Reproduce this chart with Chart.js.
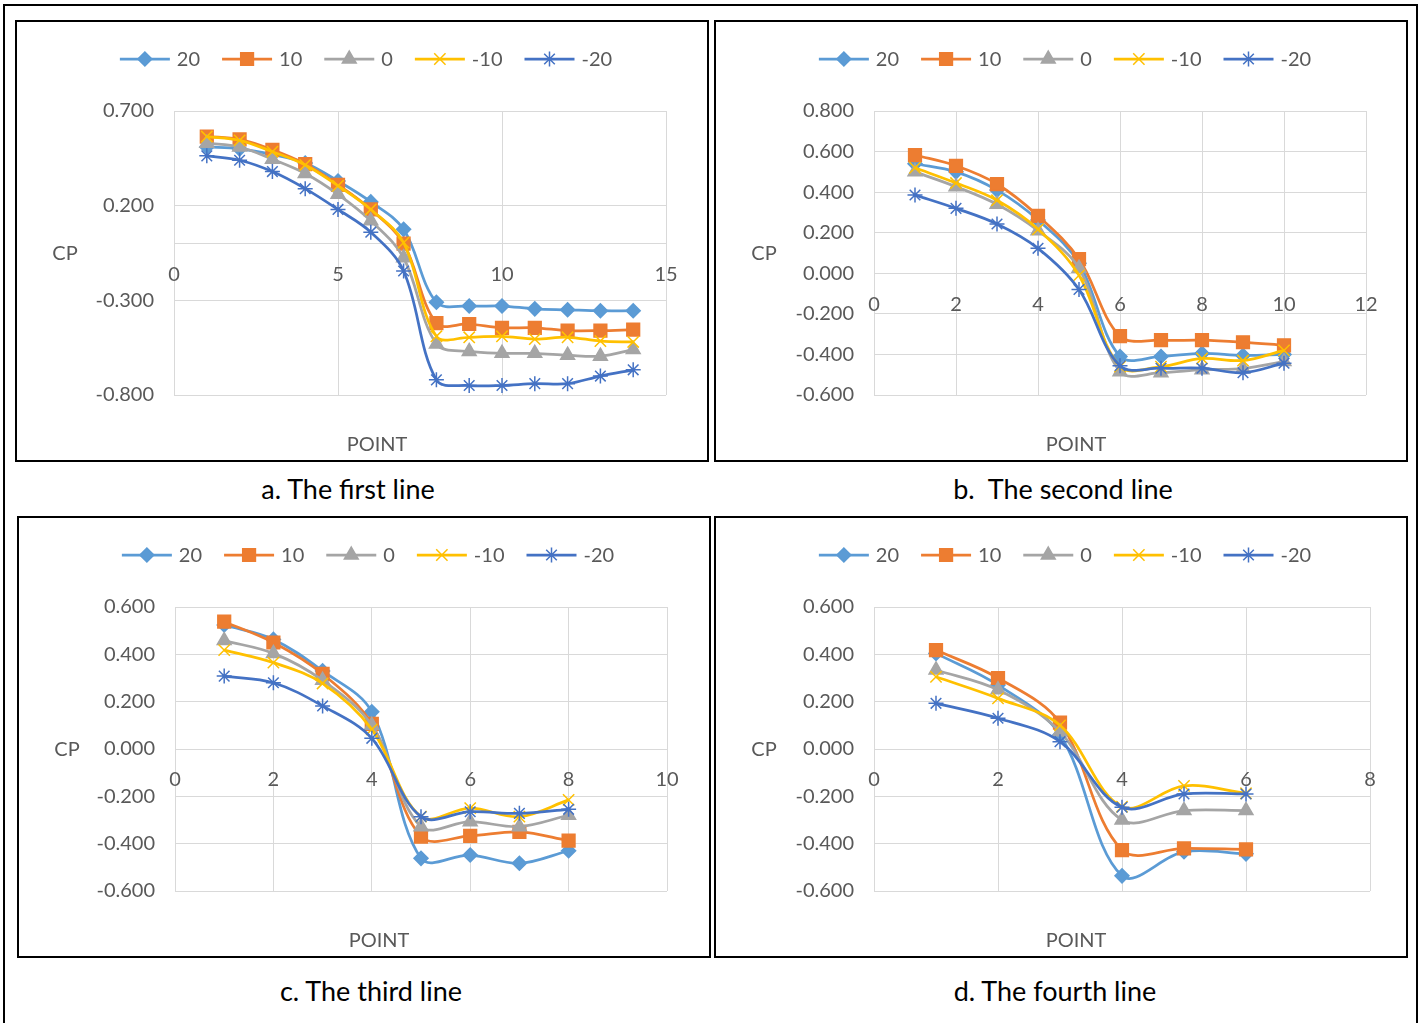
<!DOCTYPE html>
<html lang="en">
<head>
<meta charset="UTF-8">
<title>CP along the four lines</title>
<script src="https://cdn.jsdelivr.net/npm/chart.js"></script>
<style>
    body { margin: 0; background: #fff; font-family: Lato, 'Open Sans', sans-serif; }
    #page { position: relative; width: 1420px; height: 1023px; overflow: hidden; }
    .frame { position: absolute; left: 3px; top: 4px; width: 1411px; height: 1060px; border: 2px solid #000; }
    .box { position: absolute; width: 690px; height: 438px; border: 2px solid #000; }
    .box canvas { display: block; }
    .caption { position: absolute; width: 500px; text-align: center; font-size: 27px; color: #000; line-height: 30px; }
</style>
</head>
<body>
<div id="page">
    <div class="frame"></div>

    <div class="box" style="left:15px; top:20px;"><canvas id="chartA" width="690" height="438"></canvas></div>
    <div class="box" style="left:714px; top:20px;"><canvas id="chartB" width="690" height="438"></canvas></div>
    <div class="box" style="left:17px; top:516px;"><canvas id="chartC" width="690" height="438"></canvas></div>
    <div class="box" style="left:714px; top:516px;"><canvas id="chartD" width="690" height="438"></canvas></div>

    <div class="caption" style="left:98px; top:474px;">a. The first line</div>
    <div class="caption" style="left:813px; top:474px;">b.&nbsp; The second line</div>
    <div class="caption" style="left:121px; top:976px;">c. The third line</div>
    <div class="caption" style="left:805px; top:976px;">d. The fourth line</div>
</div>

<script>
// series names (angle) shared by all four charts
var seriesNames = ['20', '10', '0', '-10', '-20'];

// first line
var pointsA = [1, 2, 3, 4, 5, 6, 7, 8, 9, 10, 11, 12, 13, 14];
var a20  = [0.51, 0.50, 0.47, 0.425, 0.33, 0.22, 0.075, -0.31, -0.33, -0.33, -0.345, -0.35, -0.355, -0.355];
var a10  = [0.565, 0.55, 0.495, 0.42, 0.31, 0.18, 0.0, -0.42, -0.425, -0.445, -0.445, -0.46, -0.46, -0.455];
var a0   = [0.53, 0.51, 0.445, 0.37, 0.26, 0.12, -0.075, -0.53, -0.57, -0.58, -0.58, -0.59, -0.595, -0.56];
var aM10 = [0.565, 0.545, 0.485, 0.415, 0.305, 0.18, 0.005, -0.49, -0.495, -0.49, -0.505, -0.495, -0.515, -0.52];
var aM20 = [0.463, 0.44, 0.38, 0.29, 0.18, 0.06, -0.145, -0.72, -0.75, -0.75, -0.74, -0.74, -0.70, -0.667];
var yTicksA = [-0.8, -0.3, 0.2, 0.7];

// second line
var pointsB = [1, 2, 3, 4, 5, 6, 7, 8, 9, 10];
var b20  = [0.54, 0.50, 0.41, 0.263, 0.05, -0.41, -0.41, -0.395, -0.405, -0.40];
var b10  = [0.583, 0.53, 0.44, 0.283, 0.07, -0.31, -0.33, -0.33, -0.34, -0.355];
var b0   = [0.50, 0.427, 0.34, 0.21, 0.025, -0.485, -0.49, -0.475, -0.47, -0.435];
var bM10 = [0.52, 0.445, 0.36, 0.217, -0.01, -0.46, -0.46, -0.42, -0.43, -0.38];
var bM20 = [0.386, 0.32, 0.243, 0.123, -0.08, -0.456, -0.468, -0.468, -0.49, -0.443];
var yTicksB = [-0.6, -0.4, -0.2, 0, 0.2, 0.4, 0.6, 0.8];

// third line
var pointsC = [1, 2, 3, 4, 5, 6, 7, 8];
var c20  = [0.524, 0.463, 0.33, 0.157, -0.462, -0.448, -0.483, -0.43];
var c10  = [0.538, 0.45, 0.317, 0.106, -0.37, -0.367, -0.35, -0.387];
var c0   = [0.458, 0.404, 0.29, 0.10, -0.328, -0.307, -0.328, -0.28];
var cM10 = [0.418, 0.365, 0.277, 0.083, -0.286, -0.25, -0.286, -0.215];
var cM20 = [0.308, 0.28, 0.182, 0.045, -0.286, -0.265, -0.272, -0.255];
var yTicksC = [-0.6, -0.4, -0.2, 0, 0.2, 0.4, 0.6];

// fourth line
var pointsD = [1, 2, 3, 4, 5, 6];
var d20  = [0.404, 0.27, 0.06, -0.536, -0.434, -0.443];
var d10  = [0.418, 0.30, 0.111, -0.427, -0.42, -0.424];
var d0   = [0.334, 0.25, 0.073, -0.30, -0.26, -0.26];
var dM10 = [0.305, 0.214, 0.10, -0.244, -0.156, -0.187];
var dM20 = [0.193, 0.13, 0.031, -0.246, -0.19, -0.19];
var yTicksD = [-0.6, -0.4, -0.2, 0, 0.2, 0.4, 0.6];

var colors = ['#5B9BD5', '#ED7D31', '#A5A5A5', '#FFC000', '#4472C4'];
var markers = ['rectRot', 'rect', 'triangle', 'crossRot', 'star'];
var markerSizes = [7, 9, 8, 8, 7.5];
var FONT = 'Lato, "Open Sans", sans-serif';
var TEXT_GREY = '#595959';
var GRID_GREY = '#D9D9D9';

// legend drawn as line + marker + label, centred above the plot
var lineLegend = {
    id: 'lineLegend',
    afterDraw: function(chart) {
        var ctx = chart.ctx;
        var y = 37;
        ctx.save();
        ctx.font = '20px ' + FONT;
        var items = chart.data.datasets.map(function(ds) {
            return { ds: ds, w: ctx.measureText(ds.label).width };
        });
        var total = 0;
        items.forEach(function(it) { total += 50 + 7 + it.w; });
        total += 22 * (items.length - 1);
        var x = (chart.width - total) / 2 + 4;
        items.forEach(function(it) {
            var ds = it.ds;
            ctx.strokeStyle = ds.borderColor;
            ctx.lineWidth = 2.75;
            ctx.beginPath();
            ctx.moveTo(x, y);
            ctx.lineTo(x + 50, y);
            ctx.stroke();
            ctx.fillStyle = ds.borderColor;
            ctx.lineWidth = 1.5;
            Chart.helpers.drawPoint(ctx, { pointStyle: ds.pointStyle, radius: ds.pointRadius, borderWidth: 1.5, rotation: 0 }, x + 25, y);
            ctx.fillStyle = TEXT_GREY;
            ctx.textBaseline = 'middle';
            ctx.textAlign = 'left';
            ctx.fillText(ds.label, x + 57, y + 1);
            x += 50 + 7 + it.w + 22;
        });
        ctx.restore();
    }
};

// horizontal "CP" on the left and "POINT" under the plot
var axisTitles = {
    id: 'axisTitles',
    afterDraw: function(chart) {
        var ctx = chart.ctx;
        var area = chart.chartArea;
        ctx.save();
        ctx.font = '20px ' + FONT;
        ctx.fillStyle = TEXT_GREY;
        ctx.textAlign = 'center';
        ctx.textBaseline = 'middle';
        ctx.fillText('CP', 48, (area.top + area.bottom) / 2 + 1);
        ctx.fillText('POINT', 360, 423);
        ctx.restore();
    }
};

function buildDatasets(points, seriesList) {
    return seriesList.map(function(values, i) {
        return {
            label: seriesNames[i],
            data: values.map(function(v, j) { return { x: points[j], y: v }; }),
            borderColor: colors[i],
            backgroundColor: colors[i],
            pointBackgroundColor: colors[i],
            pointBorderColor: colors[i],
            pointStyle: markers[i],
            pointRadius: markerSizes[i],
            pointBorderWidth: 1.5,
            borderWidth: 2.75,
            tension: 0.35,
            order: seriesList.length - 1 - i
        };
    });
}

function makeChart(id, points, seriesList, xMax, xStep, yTicks, yAxisWidth, padRight) {
    var ctx = document.getElementById(id).getContext('2d');
    return new Chart(ctx, {
        type: 'line',
        data: { datasets: buildDatasets(points, seriesList) },
        plugins: [lineLegend, axisTitles],
        options: {
            responsive: false,
            animation: false,
            devicePixelRatio: 1,
            layout: { padding: { left: 0, top: 89, right: padRight, bottom: 65 } },
            plugins: { legend: { display: false }, tooltip: { enabled: false } },
            scales: {
                x: {
                    type: 'linear',
                    position: { y: 0 },
                    min: 0,
                    max: xMax,
                    afterFit: function(s) { s.height = 0; },
                    ticks: { stepSize: xStep, padding: 19, color: TEXT_GREY, font: { family: FONT, size: 20 } },
                    grid: { color: GRID_GREY, lineWidth: 1, drawTicks: false },
                    border: { color: GRID_GREY, width: 1 }
                },
                y: {
                    type: 'linear',
                    min: yTicks[0],
                    max: yTicks[yTicks.length - 1],
                    afterFit: function(s) { s.width = yAxisWidth; },
                    afterBuildTicks: function(s) {
                        s.ticks = yTicks.map(function(v) { return { value: v }; });
                    },
                    ticks: {
                        padding: 20,
                        color: TEXT_GREY,
                        font: { family: FONT, size: 20 },
                        callback: function(v) { return Number(v).toFixed(3); }
                    },
                    grid: { color: GRID_GREY, lineWidth: 1, drawTicks: false },
                    border: { display: false }
                }
            }
        }
    });
}

window.onload = function() {
    makeChart('chartA', pointsA, [a20, a10, a0, aM10, aM20], 15, 5, yTicksA, 157, 41);
    makeChart('chartB', pointsB, [b20, b10, b0, bM10, bM20], 12, 2, yTicksB, 158, 40);
    makeChart('chartC', pointsC, [c20, c10, c0, cM10, cM20], 10, 2, yTicksC, 156, 42);
    makeChart('chartD', pointsD, [d20, d10, d0, dM10, dM20], 8, 2, yTicksD, 158, 36);
};
</script>
</body>
</html>
